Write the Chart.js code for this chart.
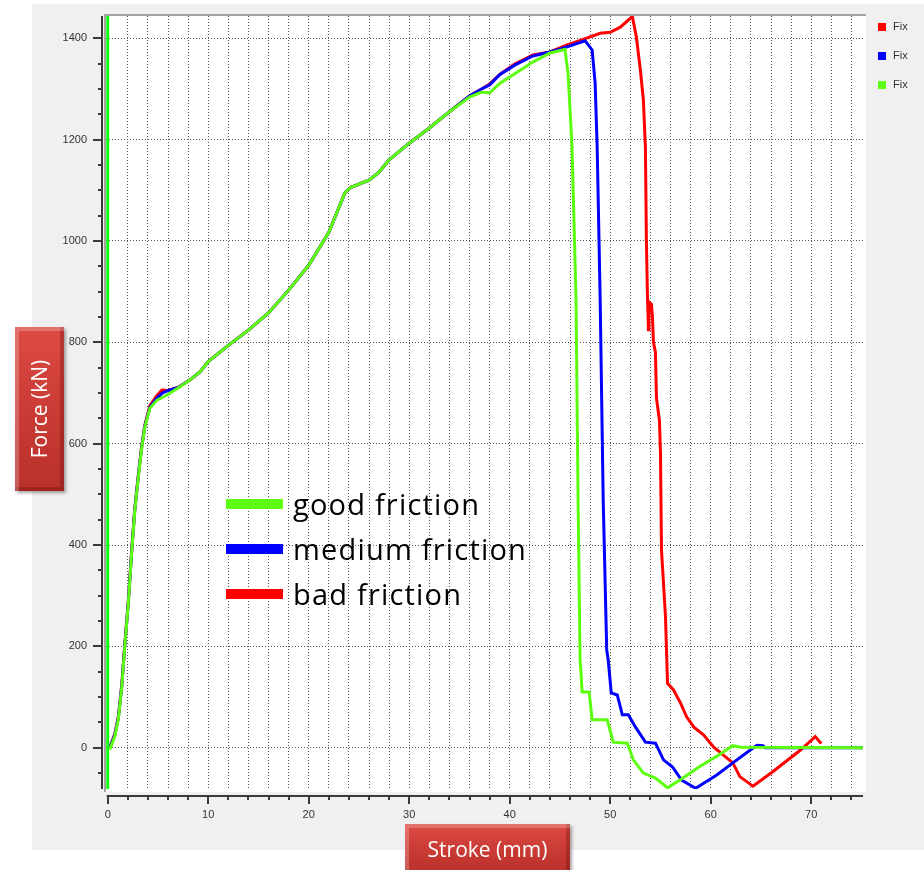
<!DOCTYPE html>
<html>
<head>
<meta charset="utf-8">
<script src="https://cdn.jsdelivr.net/npm/chart.js@4/dist/chart.umd.min.js"></script>
<style>
  body { margin: 0; background: #fff; overflow: hidden; }
  #panel { position: absolute; left: 32px; top: 4px; width: 892px; height: 846px; background: #f0f0f0; }
  #wrap { position: absolute; left: 0; top: 0; width: 924px; height: 870px; }
  .btn {
    position: absolute; color: #fff; font-family: "Open Sans", sans-serif; font-size: 21px;
    background: linear-gradient(#dc4b44, #c93a34 55%, #b9302b);
    box-shadow: 2px 2px 3px rgba(0,0,0,0.35), inset 4px 4px 0 rgba(255,255,255,0.22), inset -4px -4px 0 rgba(80,0,0,0.25);
    display: flex; align-items: center; justify-content: center; z-index: 2;
  }
  #ytitle { left: 15px; top: 327px; width: 49px; height: 164px; }
  #ytitle span { transform: rotate(-90deg); white-space: nowrap; }
  #xtitle { left: 405px; top: 824px; width: 165px; height: 50px; }
</style>
</head>
<body>
<div id="panel"></div>
<div id="wrap"><canvas id="myChart"></canvas></div>
<div class="btn" id="ytitle"><span>Force (kN)</span></div>
<div class="btn" id="xtitle">Stroke (mm)</div>
<script>
'use strict';

// stroke (mm) / force (kN)
let strokeGood = [0.1, 0.25, 0.7, 1.05, 1.4, 1.7, 2.05, 2.4, 2.7, 3.05, 3.4, 3.7, 4.2, 4.9, 5.9, 7.0, 8.2, 9.2, 10,
  12, 14, 16, 18, 20, 22, 23.6, 24.2, 26, 27, 28, 30, 32, 34, 36, 37.2, 38, 39, 40.5, 42.3, 44, 45.5,
  45.8, 46.2, 46.6, 46.8, 47.0, 47.1, 47.2, 47.9, 48.2, 49.7, 50.3, 51.7, 52.3, 53.3, 54.5, 55.7,
  56.9, 58.9, 60.6, 62.2, 63.0, 75.5];
let forceGood = [-2, -1, 22, 55, 120, 199, 285, 390, 469, 535, 594, 633, 670, 686, 696, 710, 726, 742, 762,
  794, 824, 858, 903, 952, 1017, 1095, 1106, 1120, 1136, 1160, 1193, 1223, 1255, 1284, 1294, 1292, 1311, 1330, 1353, 1371, 1378,
  1331, 1186, 883, 489, 173, 147, 110, 110, 55, 55, 11, 9, -24, -50, -60, -79,
  -64, -37, -17, 4, 1, 0];

let strokeMedium = [0.1, 0.25, 0.7, 1.05, 1.4, 1.7, 2.05, 2.4, 2.7, 3.05, 3.4, 3.7, 4.2, 4.9, 5.5, 6.2, 7.0, 8.2, 9.2, 10,
  12, 14, 16, 18, 20, 22, 23.6, 24.2, 26, 27, 28, 30, 32, 34, 36, 37.2, 38, 39, 40.5, 42.3, 44, 45.7, 47.5,
  48.2, 48.5, 48.7, 49.0, 49.3, 49.65, 49.8, 50.1, 50.7, 51.2, 51.8, 52.5, 53.5, 54.5, 55.3, 56.2, 57.1, 58.5,
  60.6, 62.2, 63.9, 64.6, 65.2, 65.4, 75.5];
let forceMedium = [-2, 2, 25, 58, 122, 201, 287, 392, 471, 537, 596, 635, 672, 690, 701, 706, 711, 726, 742, 762,
  794, 824, 858, 903, 952, 1017, 1095, 1106, 1120, 1136, 1160, 1193, 1223, 1255, 1286, 1300, 1308, 1328, 1347, 1365, 1373, 1383, 1395,
  1377, 1311, 1186, 883, 489, 193, 173, 108, 104, 65, 65, 41, 11, 9, -24, -38, -64, -80,
  -54, -30, -5, 5, 4, 0, 0];

let strokeBad = [0.1, 0.25, 0.7, 1.05, 1.4, 1.7, 2.05, 2.4, 2.7, 3.05, 3.4, 3.7, 4.2, 4.9, 5.4, 6.0, 7.0, 8.2, 9.2, 10,
  12, 14, 16, 18, 20, 22, 23.6, 24.2, 26, 27, 28, 30, 32, 34, 36, 37.2, 38, 39.1, 40.5, 42.3, 44, 45.7, 47.3, 49, 50, 51, 52.2,
  52.6, 53.0, 53.3, 53.5, 53.6, 53.7, 53.8, 53.85, 54.1, 54.2, 54.3, 54.5, 54.6, 54.9, 55.0, 55.1, 55.5, 55.7,
  56.3, 57.0, 57.6, 58.3, 59.3, 60.3, 62.2, 62.9, 64.2, 66.2, 68.9, 70.4, 71.0];
let forceBad = [-2, 3, 27, 60, 125, 203, 289, 394, 473, 539, 598, 637, 675, 695, 706, 705, 711, 726, 742, 762,
  794, 824, 858, 903, 952, 1017, 1095, 1106, 1120, 1136, 1160, 1193, 1223, 1255, 1286, 1300, 1310, 1330, 1349, 1367, 1373, 1387, 1398, 1410, 1412, 1422, 1443,
  1403, 1337, 1278, 1185, 1000, 895, 825, 880, 875, 850, 800, 780, 690, 645, 580, 390, 258, 127,
  114, 88, 61, 41, 25, 1, -30, -57, -76, -47, -5, 22, 8];

// green marker line on the left edge
let strokeMarker = [0, 0];
let forceMarker = [-100, 1500];

let xTicks = [];
for (let v = 0; v <= 74; v += 2) xTicks.push(v);
let yTicks = [];
for (let v = -50; v <= 1400; v += 50) yTicks.push(v);

let legendNames = ['good friction', 'medium friction', 'bad friction'];
let legendColors = ['#5cff10', '#0000ff', '#ff0000'];
let fixColors = ['#ff0000', '#0000ff', '#5cff10'];

function toPoints(xs, ys) {
  return xs.map((x, i) => ({ x: x, y: ys[i] }));
}

const framePlugin = {
  id: 'frame',
  beforeDraw(chart) {
    const { ctx, chartArea: a } = chart;
    ctx.save();
    ctx.fillStyle = '#fff';
    ctx.fillRect(a.left - 2, a.top - 1, a.right - a.left + 5, a.bottom - a.top + 4);
    ctx.fillStyle = '#a3a3a3';
    ctx.fillRect(a.left - 2, a.top - 2, a.right - a.left + 5, 2);
    ctx.fillRect(a.left - 2, a.top - 2, 2, a.bottom - a.top + 5);
    ctx.restore();
  },
  afterDraw(chart) {
    const { ctx, chartArea: a } = chart;
    const xs = chart.scales.x, ys = chart.scales.y;
    ctx.save();
    ctx.strokeStyle = '#3a3a3a';
    ctx.lineWidth = 2;
    // y axis spine and ticks
    const sx = a.left - 4;
    ctx.beginPath();
    ctx.moveTo(sx, a.top);
    ctx.lineTo(sx, a.bottom);
    yTicks.forEach(v => {
      const py = Math.round(ys.getPixelForValue(v));
      ctx.moveTo(sx - (v % 200 === 0 ? 9 : 4), py);
      ctx.lineTo(sx, py);
    });
    // x axis spine and ticks
    const sy = a.bottom + 7;
    ctx.moveTo(xs.getPixelForValue(0) - 1, sy);
    ctx.lineTo(a.right, sy);
    xTicks.forEach(v => {
      const px = Math.round(xs.getPixelForValue(v));
      ctx.moveTo(px, sy);
      ctx.lineTo(px, sy + (v % 10 === 0 ? 8 : 4));
    });
    ctx.stroke();

    // small legend top right
    ctx.font = '11px "Liberation Sans"';
    ctx.textBaseline = 'middle';
    fixColors.forEach((c, i) => {
      const y = 27 + i * 29;
      ctx.fillStyle = c;
      ctx.fillRect(878, y - 4, 8, 8);
      ctx.fillStyle = '#333';
      ctx.fillText('Fix', 893, y);
    });

    // big legend in the plot
    ctx.font = '29px "Open Sans"';
    ctx.letterSpacing = '1.2px';
    ctx.textBaseline = 'alphabetic';
    legendNames.forEach((name, i) => {
      const y = 504 + i * 45;
      ctx.fillStyle = legendColors[i];
      ctx.fillRect(226, y - 5, 57, 10);
      ctx.fillStyle = '#000';
      ctx.fillText(name, 293, y + 11);
    });
    ctx.restore();
  }
};

function createChart() {
  let ctx = document.getElementById('myChart').getContext('2d');
  Chart.defaults.font.family = '"Liberation Sans", sans-serif';
  Chart.defaults.font.size = 11;
  Chart.defaults.color = '#333';

  let myChart = new Chart(ctx, {
    type: 'line',
    data: {
      datasets: [
        { label: 'marker', data: toPoints(strokeMarker, forceMarker), borderColor: '#10ff10', borderWidth: 3 },
        { label: 'good friction', data: toPoints(strokeGood, forceGood), borderColor: legendColors[0], borderWidth: 3 },
        { label: 'medium friction', data: toPoints(strokeMedium, forceMedium), borderColor: legendColors[1], borderWidth: 3 },
        { label: 'bad friction', data: toPoints(strokeBad, forceBad), borderColor: legendColors[2], borderWidth: 3 }
      ]
    },
    options: {
      maintainAspectRatio: false,
      animation: false,
      elements: { point: { radius: 0 }, line: { tension: 0 } },
      layout: { padding: { left: 0, top: 16, right: 61, bottom: 0 } },
      plugins: { legend: { display: false }, tooltip: { enabled: false } },
      scales: {
        x: {
          type: 'linear',
          min: -0.17,
          max: 75.15,
          afterBuildTicks: s => { s.ticks = xTicks.map(v => ({ value: v })); },
          afterFit: s => { s.height = 81; s.paddingLeft = 0; s.paddingRight = 0; },
          ticks: { autoSkip: false, maxRotation: 0, padding: 19, callback: v => (v % 10 === 0 ? v : '') },
          grid: { color: '#555', lineWidth: 1, drawTicks: false },
          border: { display: false, dash: [1, 2] }
        },
        y: {
          type: 'linear',
          min: -81.5,
          max: 1444,
          afterBuildTicks: s => { s.ticks = yTicks.map(v => ({ value: v })); },
          afterFit: s => { s.width = 106; s.paddingTop = 0; s.paddingBottom = 0; },
          ticks: { autoSkip: false, padding: 19, callback: v => (v % 200 === 0 ? v : '') },
          grid: { color: c => (c.tick && c.tick.value % 200 === 0 ? '#555' : 'rgba(0,0,0,0)'), lineWidth: 1, drawTicks: false },
          border: { display: false, dash: [1, 2] }
        }
      }
    },
    plugins: [framePlugin]
  });
}

createChart()
</script>
</body>
</html>
